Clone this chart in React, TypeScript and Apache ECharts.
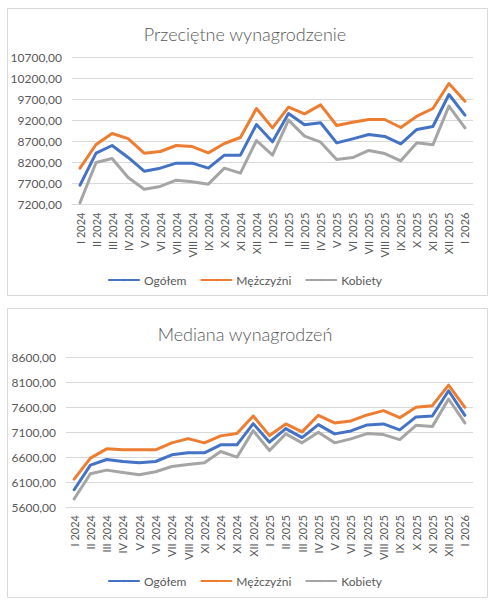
import React, { useEffect, useRef } from 'react';
import * as echarts from 'echarts';

const avgCategories = [
  'I 2024', 'II 2024', 'III 2024', 'IV 2024', 'V 2024', 'VI 2024', 'VII 2024', 'VIII 2024',
  'IX 2024', 'X 2024', 'XI 2024', 'XII 2024', 'I 2025', 'II 2025', 'III 2025', 'IV 2025',
  'V 2025', 'VI 2025', 'VII 2025', 'VIII 2025', 'IX 2025', 'X 2025', 'XI 2025', 'XII 2025', 'I 2026'
];

// the median chart has "XI 2024" in the 9th slot, as in the source
const medCategories = [
  'I 2024', 'II 2024', 'III 2024', 'IV 2024', 'V 2024', 'VI 2024', 'VII 2024', 'VIII 2024',
  'XI 2024', 'X 2024', 'XI 2024', 'XII 2024', 'I 2025', 'II 2025', 'III 2025', 'IV 2025',
  'V 2025', 'VI 2025', 'VII 2025', 'VIII 2025', 'IX 2025', 'X 2025', 'XI 2025', 'XII 2025', 'I 2026'
];

const seriesNames = ['Ogółem', 'Mężczyźni', 'Kobiety'];

const avgTotal = [7660, 8422, 8605, 8320, 7994, 8065, 8185, 8185, 8065, 8375, 8375, 9105,
  8692, 9367, 9097, 9145, 8668, 8763, 8867, 8820, 8645, 8986, 9057, 9819, 9327];
const avgMen = [8065, 8629, 8890, 8770, 8422, 8462, 8605, 8580, 8430, 8653, 8795, 9486,
  9025, 9517, 9359, 9573, 9081, 9160, 9224, 9224, 9033, 9303, 9486, 10081, 9660];
const avgWomen = [7240, 8200, 8295, 7843, 7565, 7630, 7780, 7740, 7684, 8065, 7946, 8724,
  8375, 9208, 8827, 8684, 8271, 8319, 8486, 8414, 8240, 8668, 8620, 9541, 9025];

const medTotal = [5947, 6440, 6553, 6513, 6487, 6513, 6647, 6687, 6687, 6847, 6847, 7273,
  6900, 7173, 6993, 7253, 7067, 7127, 7247, 7267, 7147, 7407, 7427, 7933, 7440];
const medMen = [6160, 6580, 6767, 6747, 6747, 6747, 6887, 6973, 6887, 7027, 7073, 7427,
  7033, 7267, 7107, 7440, 7287, 7327, 7447, 7533, 7393, 7600, 7633, 8047, 7600];
const medWomen = [5760, 6267, 6340, 6293, 6247, 6307, 6413, 6453, 6487, 6713, 6600, 7133,
  6733, 7067, 6887, 7100, 6887, 6967, 7073, 7053, 6953, 7240, 7213, 7767, 7287];

const colors = ['#4472C4', '#ED7D31', '#A5A5A5'];
const FONT = 'Lato, "Noto Sans", sans-serif';
const TEXT = '#595959';
const GRID_LINE = '#D9D9D9';

const fmt = (v: number) => v.toFixed(2).replace('.', ',');

const App: React.FC = () => {
  const chartRef = useRef<HTMLDivElement>(null);

  useEffect(() => {
    if (!chartRef.current) return;
    const chart = echarts.init(chartRef.current, null, { renderer: 'svg' });

    const xAxis = (idx: number, data: string[]) => ({
      type: 'category' as const,
      gridIndex: idx,
      data,
      boundaryGap: true,
      axisLine: { lineStyle: { color: GRID_LINE, width: 1 } },
      axisTick: { show: false },
      axisLabel: {
        rotate: 90,
        interval: 0,
        margin: 8,
        color: TEXT,
        fontSize: 11,
        fontFamily: FONT
      }
    });

    const yAxis = (idx: number, min: number, max: number) => ({
      type: 'value' as const,
      gridIndex: idx,
      min,
      max,
      interval: 500,
      axisLine: { show: false },
      axisTick: { show: false },
      splitLine: { lineStyle: { color: GRID_LINE, width: 1 } },
      axisLabel: {
        color: TEXT,
        fontSize: 12,
        fontFamily: FONT,
        margin: 10,
        formatter: fmt
      }
    });

    const line = (name: string, data: number[], idx: number, c: number) => ({
      name,
      type: 'line' as const,
      xAxisIndex: idx,
      yAxisIndex: idx,
      data,
      symbol: 'none',
      lineStyle: { color: colors[c], width: 3, join: 'round' as const, cap: 'round' as const },
      itemStyle: { color: colors[c] }
    });

    const legend = (top: number) => ({
      top,
      left: 'center',
      itemWidth: 30,
      itemHeight: 3,
      itemGap: 14,
      data: seriesNames,
      textStyle: { color: TEXT, fontSize: 12, fontFamily: FONT }
    });

    chart.setOption({
      animation: false,
      backgroundColor: '#fff',
      title: [
        {
          text: 'Przeciętne wynagrodzenie',
          left: 'center',
          top: 20,
          textStyle: { color: TEXT, fontSize: 18, fontWeight: 300, fontFamily: FONT }
        },
        {
          text: 'Mediana wynagrodzeń',
          left: 'center',
          top: 320,
          textStyle: { color: TEXT, fontSize: 18, fontWeight: 300, fontFamily: FONT }
        }
      ],
      legend: [legend(269), legend(570)],
      graphic: [
        {
          type: 'rect',
          z: -10,
          shape: { x: 7.5, y: 8.5, width: 480, height: 287 },
          style: { fill: '#fff', stroke: GRID_LINE, lineWidth: 1 }
        },
        {
          type: 'rect',
          z: -10,
          shape: { x: 7.5, y: 308.5, width: 480, height: 289 },
          style: { fill: '#fff', stroke: GRID_LINE, lineWidth: 1 }
        }
      ],
      grid: [
        { left: 72, right: 17, top: 57.5, height: 147 },
        { left: 66, right: 17, top: 357.5, height: 149.5 }
      ],
      xAxis: [xAxis(0, avgCategories), xAxis(1, medCategories)],
      yAxis: [yAxis(0, 7200, 10700), yAxis(1, 5600, 8600)],
      series: [
        line(seriesNames[0], avgTotal, 0, 0),
        line(seriesNames[1], avgMen, 0, 1),
        line(seriesNames[2], avgWomen, 0, 2),
        line(seriesNames[0], medTotal, 1, 0),
        line(seriesNames[1], medMen, 1, 1),
        line(seriesNames[2], medWomen, 1, 2)
      ]
    });

    return () => chart.dispose();
  }, []);

  return (
    <div
      ref={chartRef}
      style={{ position: 'absolute', left: 0, top: 0, width: 490, height: 603 }}
    />
  );
};

export default App;
